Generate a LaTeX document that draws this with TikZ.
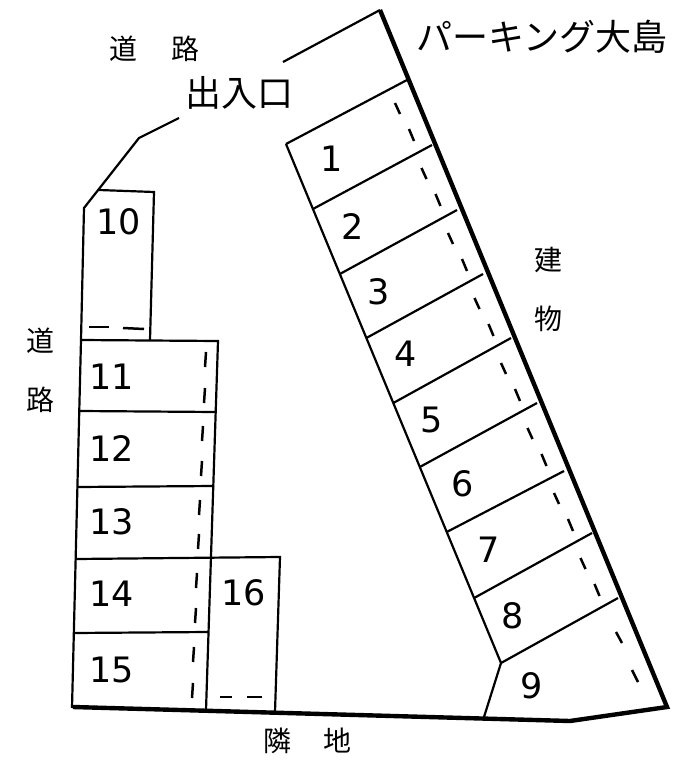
\documentclass[tikz,border=0pt]{standalone}
\usepackage{fontspec}
\setmainfont{DejaVu Sans}
\newfontfamily\cjk{Noto Sans CJK JP}

\begin{document}
\begin{tikzpicture}[x=1pt,y=-1pt]
        \tikzstyle{wall}=[line width=4.4pt,line join=miter]
        \tikzstyle{stall}=[line width=2.2pt,line join=miter]
        \tikzstyle{tick}=[line width=2.5pt]
        \tikzstyle{num}=[inner sep=0pt,font=\fontsize{35}{35}\selectfont]
        \tikzstyle{word}=[inner sep=0pt,font=\cjk\fontsize{28}{28}\selectfont]
        \tikzstyle{head}=[inner sep=0pt,font=\cjk\fontsize{36}{36}\selectfont]
        \useasboundingbox (0,0) rectangle (678,768);
        % right row
        \draw[stall] (283,62) -- (380,10);
        \draw[stall] (286,144) -- (501,663) -- (484,717);
        \foreach \ya/\xb/\yb in {144/407/80,209/432/145,274/457/210,338/483/274,403/511/338,467/537/403,532/564/471,598/592/533,663/618/598}
            \draw[stall] ({286+(\ya-144)*0.4143},\ya) -- (\xb,\yb);
        \foreach \i in {0,...,7} {
            \draw[tick] ({395+26.5*\i},{103+65*\i}) -- ++(5,11);
            \draw[tick] ({409+26.5*\i},{129+65*\i}) -- ++(5,12);
        }
        \draw[tick] (616,632) -- (622,643);
        \draw[tick] (632,670) -- (638,682);
        % left row
        \draw[stall] (179,118) -- (139,138) -- (84,208) -- (81,340) -- (72,708);
        \draw[stall] (99,190) -- (154,192) -- (150,340);
        \draw[stall] (81,340) -- (218,341) -- (206,710);
        \draw[stall] (80,411) -- (216,412);
        \draw[stall] (77,487) -- (214,486);
        \draw[stall] (76,559) -- (280,557) -- (275,712);
        \draw[stall] (74,633) -- (208,632);
        \draw[tick] (89,327) -- (109,327);
        \draw[tick] (123,328) -- (144,329);
        \draw[tick] (220,697) -- (232,697);
        \draw[tick] (247,697) -- (262,697);
        \foreach \xa/\ya in {206/352,205/388,203/426,202/461,200/500,199/534,197/573,196/608,194/647,193/683}
            \draw[tick] (\xa,\ya) -- ({\xa-1},{\ya+15});
        % walls
        \draw[wall] (380,10) -- (667,707) -- (570,721) -- (73,707);
        % numbers
        \foreach \x/\y/\t in {332/159/1,353/227/2,379/292/3,406/354/4,432/420/5,463/484/6,489/550/7,513/616/8,532/686/9,119/222/10,112/377/11,112/449/12,112/522/13,112/594/14,112/670/15,244/593/16}
            \node[num] (n\t) at (\x,\y) {\t};
        % labels
        \node[head] (title) at (542,37) {パーキング大島};
        \node[head] (gate) at (239,93) {出入口};
        \node[word] (rd1) at (123,49) {道};
        \node[word] (rd2) at (185,49) {路};
        \node[word] (rd3) at (40,341) {道};
        \node[word] (rd4) at (40,400) {路};
        \node[word] (bld1) at (548,260) {建};
        \node[word] (bld2) at (548,319) {物};
        \node[word] (nb1) at (277,741) {隣};
        \node[word] (nb2) at (337,741) {地};
\end{tikzpicture}
\end{document}
